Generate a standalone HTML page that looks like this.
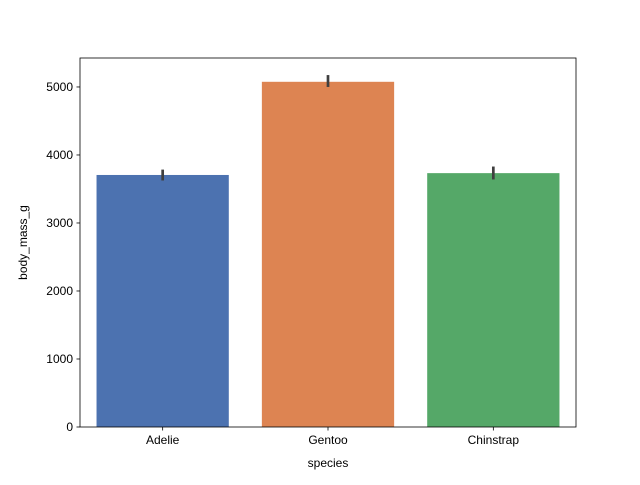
<!DOCTYPE html>
<html><head><meta charset="utf-8"><style>
body{margin:0;background:#fff}
svg text{font-family:"Liberation Sans","DejaVu Sans",sans-serif;font-size:12px;fill:#000}
</style></head><body>
<svg id="chart" width="640" height="480"></svg>
<script>
const categories=["Adelie","Gentoo","Chinstrap"];
const values=[3706,5076,3733];
const errLow=[3625,5000,3640];
const errHigh=[3785,5175,3830];
const yTicks=[0,1000,2000,3000,4000,5000];
const colors=["#4c72b0","#dd8452","#55a868"];
const L=80,R=576,T=58,B=427,yMax=5426;
const ns="http://www.w3.org/2000/svg";
const svg=document.getElementById('chart');
function y(v){return B-(v/yMax)*(B-T);}
function x(i){return L+(i+0.5)*(R-L)/categories.length;}
const bw=0.8*(R-L)/categories.length;
function mk(t,a,p){const e=document.createElementNS(ns,t);for(const k in a)e.setAttribute(k,a[k]);(p||svg).appendChild(e);return e;}
categories.forEach((c,i)=>{
 const r=mk('rect',{x:x(i)-bw/2,y:y(values[i]),width:bw,height:B-y(values[i]),fill:colors[i]});
 
 
 const e=mk('line',{x1:x(i),x2:x(i),y1:y(errLow[i]),y2:y(errHigh[i]),stroke:'#3f3f3f','stroke-width':2.7});
 
 
 mk('line',{x1:x(i),x2:x(i),y1:B,y2:B+3.5,stroke:'#000','stroke-width':0.8});
 const t=mk('text',{x:x(i),y:B+17,'text-anchor':'middle'});t.textContent=c;
 
 
});
yTicks.forEach(v=>{
 mk('line',{x1:L-3.5,x2:L,y1:y(v),y2:y(v),stroke:'#000','stroke-width':0.8});
 const t=mk('text',{x:L-7,y:y(v)+4,'text-anchor':'end'});t.textContent=v;
 
 
});
const f=mk('rect',{x:L,y:T,width:R-L,height:B-T,fill:'none',stroke:'#000','stroke-width':0.8});


const xt=mk('text',{x:(L+R)/2,y:467,'text-anchor':'middle'});xt.textContent='species';


const yt=mk('text',{x:0,y:0,'text-anchor':'middle',transform:`translate(27,${(T+B)/2}) rotate(-90)`});yt.textContent='body_mass_g';


</script>
</body></html>
